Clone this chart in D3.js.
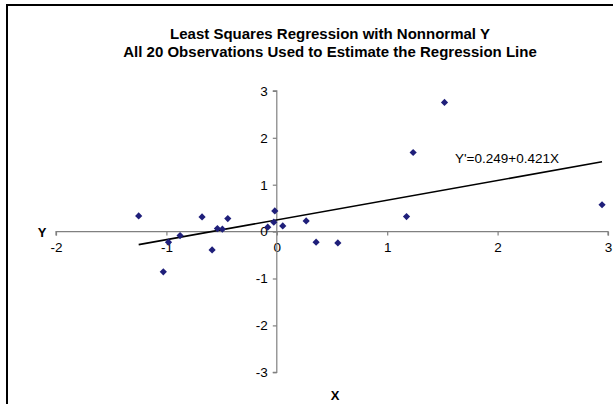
<!DOCTYPE html>
<html>
<head>
<meta charset="utf-8">
<script src="https://cdn.jsdelivr.net/npm/d3@7"></script>
<style>
html,body{margin:0;padding:0;background:#fff;}
svg{display:block;font-family:Arial,"Liberation Sans",sans-serif;}
</style>
</head>
<body>
<svg id="chart" width="613" height="404"></svg>
<script>
const titleLines = ["Least Squares Regression with Nonnormal Y", "All 20 Observations Used to Estimate the Regression Line"];
const xValues = [-1.251, -1.028, -0.981, -0.876, -0.677, -0.586, -0.538, -0.493, -0.444, -0.082, -0.018, -0.027, 0.054, 0.266, 0.356, 0.553, 1.175, 1.235, 1.519, 2.946];
const yValues = [0.334, -0.857, -0.226, -0.085, 0.313, -0.390, 0.064, 0.051, 0.277, 0.094, 0.440, 0.200, 0.121, 0.228, -0.226, -0.241, 0.321, 1.687, 2.755, 0.572];
const xTicks = [-2, -1, 0, 1, 2, 3];
const yTicks = [-3, -2, -1, 0, 1, 2, 3];
const intercept = 0.249, slope = 0.421;
const equationLabel = "Y'=0.249+0.421X";
const xTitle = "X", yTitle = "Y";

const svg = d3.select("#chart");
// outer frame
svg.append("rect").attr("x",7).attr("y",5).attr("width",620).attr("height",420)
  .attr("fill","none").attr("stroke","#000").attr("stroke-width",2);

const x = d3.scaleLinear().domain([-2,3]).range([56,608]);
const y = d3.scaleLinear().domain([-3,3]).range([372.3,90.9]);

const axisColor = "#808080";
const gx = svg.append("g").attr("transform",`translate(0,${y(0)})`)
  .call(d3.axisBottom(x).tickValues(xTicks).tickSize(4).tickPadding(7).tickFormat(d3.format("d")));
const gy = svg.append("g").attr("transform",`translate(${x(0)},0)`)
  .call(d3.axisLeft(y).tickValues(yTicks).tickSize(4).tickPadding(5).tickFormat(d3.format("d")));
[gx,gy].forEach(g=>{
  g.select(".domain").attr("stroke",axisColor).attr("stroke-width",1.2);
  g.selectAll(".tick line").attr("stroke",axisColor).attr("stroke-width",1.2);
  g.selectAll(".tick text").attr("fill","#000").attr("font-size",13.5)
    .attr("font-family","Arial,'Liberation Sans',sans-serif").text(d=>d<0?"-"+Math.abs(d):d);
});
gy.select(".domain").attr("d",`M-4,${y(3)}H0V${y(-3)}H-4`);
gx.select(".domain").attr("d",`M${x(-2)},4V0H${x(3)}V4`);

// titles
svg.selectAll("text.title").data(titleLines).join("text").attr("class","title")
  .attr("x",330).attr("y",(d,i)=>39+i*18).attr("text-anchor","middle")
  .attr("font-weight","bold").attr("font-size",15).text(d=>d);

svg.append("text").attr("x",335).attr("y",400).attr("text-anchor","middle")
  .attr("font-weight","bold").attr("font-size",13).text(xTitle);
svg.append("text").attr("x",42).attr("y",237).attr("text-anchor","middle")
  .attr("font-weight","bold").attr("font-size",13).text(yTitle);

// regression line
const xmin = d3.min(xValues), xmax = d3.max(xValues);
svg.append("line")
  .attr("x1",x(xmin)).attr("y1",y(intercept+slope*xmin))
  .attr("x2",x(xmax)).attr("y2",y(intercept+slope*xmax))
  .attr("stroke","#000").attr("stroke-width",1.6);
svg.append("text").attr("x",455).attr("y",162.5).attr("font-size",13.5).text(equationLabel);

// points
const pts = xValues.map((v,i)=>({x:v,y:yValues[i]}));
svg.selectAll("path.pt").data(pts).join("path").attr("class","pt")
  .attr("d",d=>{const cx=x(d.x), cy=y(d.y), r=3.6;return `M${cx},${cy-r}L${cx+r},${cy}L${cx},${cy+r}L${cx-r},${cy}Z`;})
  .attr("fill","#1F1F7A");
</script>
</body>
</html>
